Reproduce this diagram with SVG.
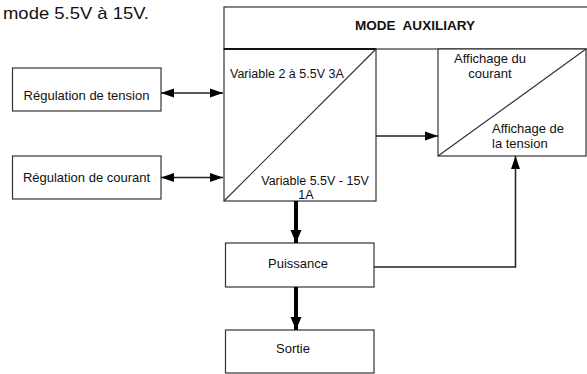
<svg xmlns="http://www.w3.org/2000/svg" width="587" height="374" viewBox="0 0 587 374">
  <style>
    text { font-family: "Liberation Sans", Arial, Helvetica, sans-serif; font-size: 13px; fill: #111; }
    .box { fill: #fff; stroke: #333; stroke-width: 1.2; }
    .line { fill: none; stroke: #333; stroke-width: 1.2; }
    .thin { fill: none; stroke: #222; stroke-width: 1.5; }
    .thick { fill: none; stroke: #000; stroke-width: 4; }
    .mid { text-anchor: middle; }
    .title { font-weight: bold; font-size: 12.5px; white-space: pre; }
  </style>
  <defs>
    <marker id="head" markerUnits="userSpaceOnUse" markerWidth="14" markerHeight="10" refX="13" refY="5" orient="auto-start-reverse">
      <path d="M0,0.5 L13,5 L0,9.5 Z" fill="#000"/>
    </marker>
    <marker id="headBig" markerUnits="userSpaceOnUse" markerWidth="14" markerHeight="12" refX="13" refY="6" orient="auto">
      <path d="M0,0.5 L13,6 L0,11.5 Z" fill="#000"/>
    </marker>
  </defs>

  <!-- caption fragment at the top-left -->
  <text x="3" y="19" style="font-size:17px" textLength="146" lengthAdjust="spacingAndGlyphs">mode 5.5V à 15V.</text>

  <!-- header block -->
  <g id="mode-auxiliary">
    <rect class="box" x="224" y="7" width="370" height="42"/>
    <text class="title" x="355" y="30" textLength="120" lengthAdjust="spacingAndGlyphs">MODE  AUXILIARY</text>
  </g>

  <!-- variable output block, split by a diagonal -->
  <g id="variable">
    <rect class="box" x="224" y="49" width="152" height="152"/>
    <line x1="224" y1="49" x2="376" y2="49" stroke="#111" stroke-width="2"/>
    <line class="line" x1="224" y1="201" x2="376" y2="49"/>
    <text x="230" y="78" style="font-size:12.5px">Variable 2 à 5.5V 3A</text>
    <text class="mid" x="315" y="185" style="font-size:12.5px">Variable 5.5V - 15V</text>
    <text class="mid" x="306" y="198.5" style="font-size:12.5px">1A</text>
  </g>

  <!-- display block, split by a diagonal -->
  <g id="affichage">
    <rect class="box" x="438" y="49" width="148" height="107"/>
    <line class="line" x1="438" y1="156" x2="586" y2="49"/>
    <text class="mid" x="490" y="63">Affichage du</text>
    <text class="mid" x="490" y="78">courant</text>
    <text x="492" y="133">Affichage de</text>
    <text x="492" y="148">la tension</text>
  </g>

  <g id="regulation-tension">
    <rect class="box" x="12.5" y="68" width="148.5" height="43"/>
    <text class="mid" x="86.5" y="100">Régulation de tension</text>
  </g>

  <g id="regulation-courant">
    <rect class="box" x="12.5" y="156" width="148.5" height="43"/>
    <text class="mid" x="86.5" y="181.5">Régulation de courant</text>
  </g>

  <g id="puissance">
    <rect class="box" x="225.5" y="243" width="148.5" height="44"/>
    <text class="mid" x="298" y="267.5">Puissance</text>
  </g>

  <g id="sortie">
    <rect class="box" x="225.5" y="330" width="148.5" height="43"/>
    <text class="mid" x="293" y="353">Sortie</text>
  </g>

  <!-- connectors -->
  <g id="connectors">
    <line class="thin" x1="161" y1="93" x2="223" y2="93" marker-start="url(#head)" marker-end="url(#head)"/>
    <line class="thin" x1="161" y1="177.5" x2="223" y2="177.5" marker-start="url(#head)" marker-end="url(#head)"/>
    <line class="thin" x1="376" y1="136" x2="438" y2="136" stroke="#555" marker-end="url(#head)"/>
    <line class="thick" x1="296" y1="201" x2="296" y2="243" marker-end="url(#headBig)"/>
    <line class="thick" x1="296" y1="287" x2="296" y2="330" marker-end="url(#headBig)"/>
    <polyline class="thin" points="374,267 515.5,267 515.5,156" stroke="#333" stroke-width="1.3" marker-end="url(#head)"/>
  </g>
</svg>
